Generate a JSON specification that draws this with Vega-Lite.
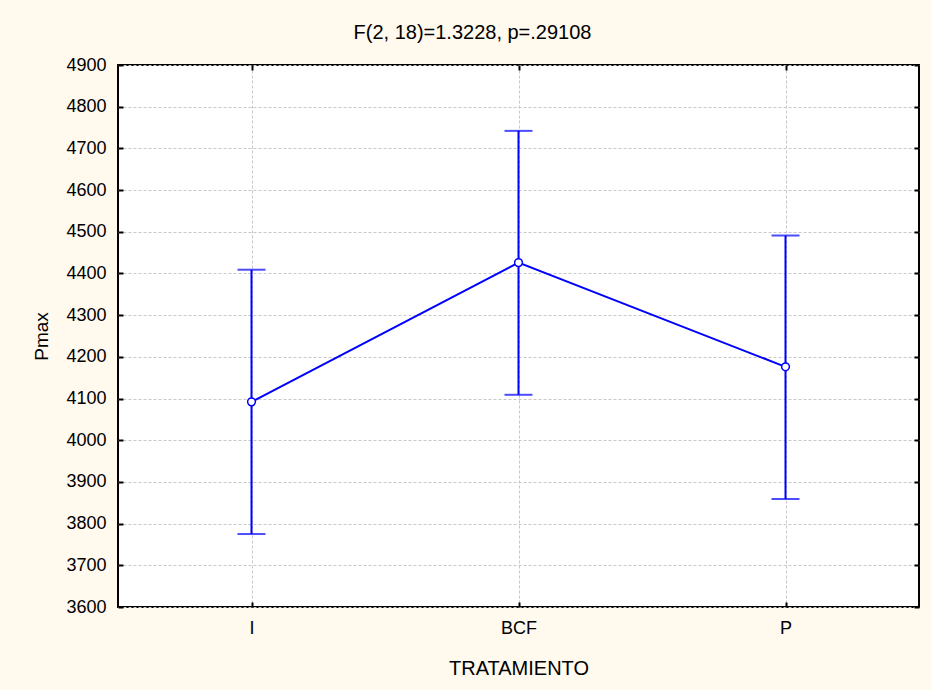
{
  "$schema": "https://vega.github.io/schema/vega-lite/v6.json",
  "width": 801,
  "height": 542,
  "autosize": "none",
  "padding": {"left": 118, "top": 65, "right": 12, "bottom": 83},
  "background": "#FFF9EE",
  "title": {
    "text": "F(2, 18)=1.3228, p=.29108",
    "font": "Liberation Sans",
    "fontSize": 20,
    "fontWeight": "normal",
    "color": "#000000",
    "anchor": "middle",
    "dx": -46,
    "offset": 13
  },
  "config": {
    "view": {"fill": "#FFFFFF", "stroke": "#000000", "strokeWidth": 2},
    "axis": {
      "labelFont": "Liberation Sans",
      "titleFont": "Liberation Sans",
      "labelColor": "#000000",
      "titleColor": "#000000",
      "titleFontWeight": "normal",
      "domain": false,
      "tickColor": "#000000",
      "tickWidth": 2
    }
  },
  "data": {
    "values": [
      {"TRATAMIENTO": "I", "mean": 4092, "low": 3775, "high": 4409},
      {"TRATAMIENTO": "BCF", "mean": 4426, "low": 4109, "high": 4742},
      {"TRATAMIENTO": "P", "mean": 4176, "low": 3859, "high": 4491}
    ]
  },
  "resolve": {"axis": {"x": "independent", "y": "independent"}},
  "layer": [
    {
      "mark": {"type": "rule", "color": "#0000FF", "strokeWidth": 2},
      "encoding": {
        "x": {
          "field": "TRATAMIENTO",
          "type": "nominal",
          "sort": null,
          "scale": {"type": "point", "padding": 0.5},
          "axis": {
            "orient": "bottom",
            "title": "TRATAMIENTO",
            "titleFontSize": 20,
            "titlePadding": 21,
            "labelFontSize": 18,
            "labelAngle": 0,
            "labelPadding": 17,
            "tickSize": -5,
            "grid": true,
            "gridColor": "#C8C8C8",
            "gridDash": [3, 2],
            "gridWidth": 1
          }
        },
        "y": {
          "field": "low",
          "type": "quantitative",
          "scale": {"domain": [3600, 4900], "zero": false, "nice": false},
          "axis": {
            "orient": "left",
            "title": "Pmax",
            "titleFontSize": 19,
            "titlePadding": 14,
            "labelFontSize": 18,
            "labelPadding": 17,
            "format": "d",
            "tickSize": -5,
            "values": [3600, 3700, 3800, 3900, 4000, 4100, 4200, 4300, 4400, 4500, 4600, 4700, 4800, 4900],
            "grid": true,
            "gridColor": "#C8C8C8",
            "gridDash": [3, 2],
            "gridWidth": 1
          }
        },
        "y2": {"field": "high"}
      }
    },
    {
      "mark": {"type": "tick", "color": "#0000FF", "size": 28, "thickness": 2},
      "encoding": {
        "x": {
          "field": "TRATAMIENTO",
          "type": "nominal",
          "sort": null,
          "axis": {
            "orient": "top",
            "title": null,
            "labels": false,
            "tickSize": -5,
            "grid": false
          }
        },
        "y": {
          "field": "low",
          "type": "quantitative",
          "axis": {
            "orient": "right",
            "title": null,
            "labels": false,
            "tickSize": -5,
            "values": [3600, 3700, 3800, 3900, 4000, 4100, 4200, 4300, 4400, 4500, 4600, 4700, 4800, 4900],
            "grid": false
          }
        }
      }
    },
    {
      "mark": {"type": "tick", "color": "#0000FF", "size": 28, "thickness": 2},
      "encoding": {
        "x": {"field": "TRATAMIENTO", "type": "nominal", "sort": null, "axis": null},
        "y": {"field": "high", "type": "quantitative", "axis": null}
      }
    },
    {
      "mark": {"type": "line", "color": "#0000FF", "strokeWidth": 2},
      "encoding": {
        "x": {"field": "TRATAMIENTO", "type": "nominal", "sort": null, "axis": null},
        "y": {"field": "mean", "type": "quantitative", "axis": null}
      }
    },
    {
      "mark": {"type": "point", "filled": true, "fill": "#FFFFFF", "stroke": "#0000FF", "strokeWidth": 1.5, "size": 60, "opacity": 1},
      "encoding": {
        "x": {"field": "TRATAMIENTO", "type": "nominal", "sort": null, "axis": null},
        "y": {"field": "mean", "type": "quantitative", "axis": null}
      }
    }
  ]
}
